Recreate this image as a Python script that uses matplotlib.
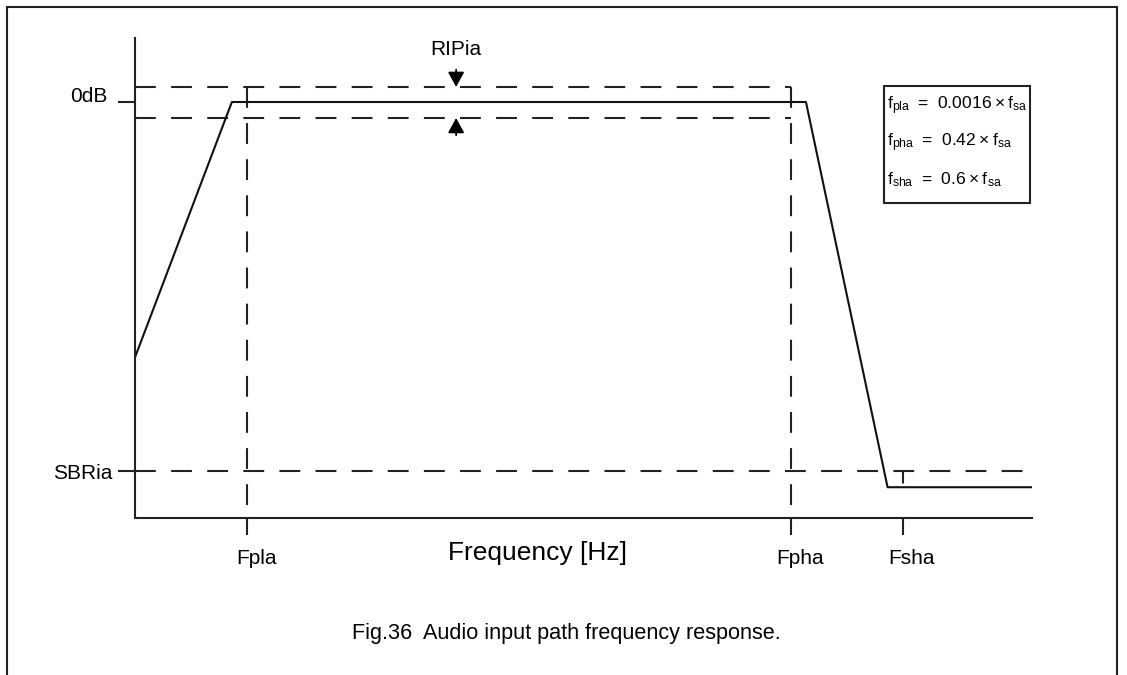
import matplotlib.pyplot as plt
from matplotlib.patches import Rectangle
from matplotlib.transforms import ScaledTranslation

plt.rcParams['font.family'] = ['Liberation Sans', 'DejaVu Sans']
plt.rcParams['mathtext.fontset'] = 'custom'
plt.rcParams['mathtext.rm'] = 'Liberation Sans'
plt.rcParams['lines.scale_dashes'] = False

# schematic frequency axis (normalised 0..1) and level in dB
curve_f = [0.0, 0.108, 0.748, 0.839, 1.0]
curve_db = [-41.5, 0.0, 0.0, -62.6, -62.6]

f_pla, f_pha, f_sha = 0.125, 0.731, 0.856
freq_ticks = [f_pla, f_pha, f_sha]
freq_labels = ['Fpla', 'Fpha', 'Fsha']

ripple_hi, ripple_lo = 2.45, -2.6
sbr_db = -60.0
level_ticks = [0.0, sbr_db]
level_labels = ['0dB', 'SBRia']

eq_lines = [r'$\mathregular{f_{pla}\ =\ 0.0016\times f_{sa}}$',
            r'$\mathregular{f_{pha}\ =\ 0.42\times f_{sa}}$',
            r'$\mathregular{f_{sha}\ =\ 0.6\times f_{sa}}$']

W, H = 1127, 675
fig = plt.figure(figsize=(W / 100, H / 100), dpi=100)
ax = fig.add_axes([135 / W, 1 - 518 / H, (1032 - 135) / W, (518 - 38) / H])
ax.set_xlim(0, 1)
ax.set_ylim(-67.6, 10.4)

dash = (0, (15, 11))
lw = 1.5
# ripple band and corner verticals
ax.plot([0, f_pha], [ripple_hi, ripple_hi], color='#222', lw=lw, linestyle=dash)
ax.plot([0, f_pha], [ripple_lo, ripple_lo], color='#222', lw=lw, linestyle=dash)
ax.plot([f_pla, f_pla], [ripple_hi, -67.6], color='#222', lw=lw, linestyle=dash)
ax.plot([f_pha, f_pha], [ripple_hi, -67.6], color='#222', lw=lw, linestyle=dash)
ax.plot([0, 1], [sbr_db, sbr_db], color='#222', lw=lw, linestyle=dash)
ax.plot([f_sha, f_sha], [sbr_db, -67.6], color='#222', lw=lw, linestyle=(0, (9, 30)))

ax.plot(curve_f, curve_db, color='#111', lw=1.5)

# ripple arrows
x_rip = 0.358
ax.annotate('', xy=(x_rip, ripple_hi), xytext=(x_rip, ripple_hi + 2.8),
            arrowprops=dict(arrowstyle='-|>,head_length=0.6,head_width=0.33',
                            mutation_scale=15, color='black', lw=1.3, shrinkA=0, shrinkB=0))
ax.annotate('', xy=(x_rip, ripple_lo), xytext=(x_rip, ripple_lo - 2.8),
            arrowprops=dict(arrowstyle='-|>,head_length=0.6,head_width=0.33',
                            mutation_scale=15, color='black', lw=1.3, shrinkA=0, shrinkB=0))
ax.text(x_rip, 8.5, 'RIPia', ha='center', va='center', fontsize=15)

for s in ['top', 'right']:
    ax.spines[s].set_visible(False)
for s in ['left', 'bottom']:
    ax.spines[s].set_linewidth(1.5)
    ax.spines[s].set_color('#222')

ax.set_xticks(freq_ticks)
ax.set_xticklabels(freq_labels, fontsize=15)
ax.set_yticks(level_ticks)
ax.set_yticklabels(level_labels, fontsize=15)
ax.tick_params(axis='both', direction='out', length=12.5, width=1.5, color='#222')
ax.tick_params(axis='x', pad=10)
ax.tick_params(axis='y', pad=4)
for lab in ax.get_xticklabels():
    lab.set_transform(lab.get_transform() + ScaledTranslation(9 / 100, 0, fig.dpi_scale_trans))
lab0 = ax.get_yticklabels()[0]
lab0.set_transform(lab0.get_transform() + ScaledTranslation(-5 / 100, 7 / 100, fig.dpi_scale_trans))

fig.text(538 / W, 1 - 553 / H, 'Frequency [Hz]', ha='center', va='center', fontsize=19)

# equation box
fig.patches.append(Rectangle((884 / W, 1 - 203 / H), 146 / W, 117 / H,
                             transform=fig.transFigure, fill=False, lw=1.5, ec='#222'))
for i, s in enumerate(eq_lines):
    fig.text(887 / W, 1 - (106 + 37 * i) / H, s, ha='left', va='center', fontsize=12.6)

# outer frame (open at bottom)
fig.patches.append(Rectangle((7 / W, -0.1), (1117 - 7) / W, 1.1 - 7 / H,
                             transform=fig.transFigure, fill=False, lw=1.5, ec='#222',
                             clip_on=False))

fig.text(566 / W, 1 - 634 / H, 'Fig.36  Audio input path frequency response.',
         ha='center', va='center', fontsize=15.6)

fig.savefig('out.png', dpi=100)
